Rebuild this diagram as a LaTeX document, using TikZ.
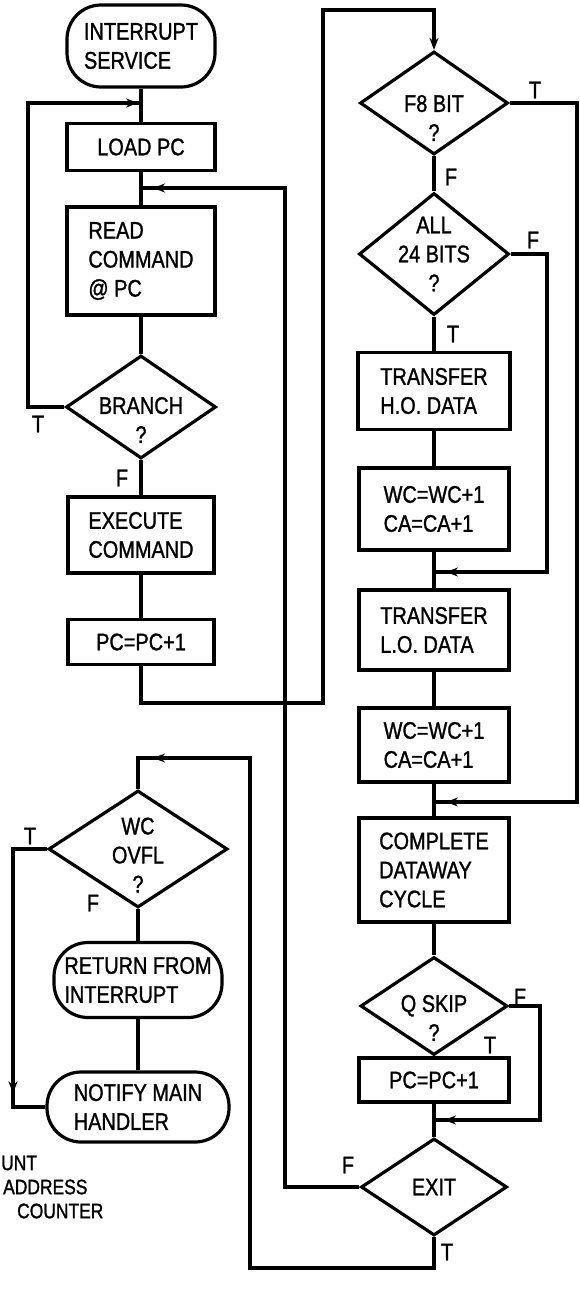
\documentclass[tikz,border=0pt]{standalone}
\usepackage{fontspec}
\setmainfont{Liberation Sans}[FakeStretch=0.83,FakeBold=1.2]
\usetikzlibrary{shapes.geometric,arrows.meta,decorations.markings}

\tikzset{
  proc/.style={draw,rectangle,line width=3.2pt,align=left},
  term/.style={draw,rectangle,rounded corners=34pt,line width=3.2pt,align=left},
  dec/.style={draw,diamond,line width=3.2pt},
  dtext/.style={align=center},
  flow/.style={line width=3.2pt},
  tip/.style={-{Stealth[length=12pt,width=9pt]}},
  arrowat/.style={postaction={decorate,decoration={markings,
      mark=at position #1 with {\arrow{Stealth[length=12pt,width=9pt]}}}}},
  legend/.style={anchor=west,font=\fontsize{21}{24}\selectfont},
}

\begin{document}
\begin{tikzpicture}[x=1pt,y=-1pt,every node/.append style={font=\fontsize{24}{29}\selectfont,inner sep=0pt}]
\useasboundingbox (0,0) rectangle (579,1301);
% left column
\node[term,minimum width=148pt,minimum height=82pt] (isr) at (141,46) {INTERRUPT\\SERVICE};
\node[proc,minimum width=148pt,minimum height=47pt,align=center] (loadpc) at (141,147) {LOAD PC};
\node[proc,minimum width=148pt,minimum height=108pt] (readcmd) at (141,261) {READ\\COMMAND\\@ PC};
\node[dec,minimum width=150pt,minimum height=103pt] (branch) at (141,407) {};
\node[dtext,yshift=-13pt] (branchtxt) at (branch) {BRANCH\\?};
\node[proc,minimum width=146pt,minimum height=76pt] (execcmd) at (141,535) {EXECUTE\\COMMAND};
\node[proc,minimum width=146pt,minimum height=45pt,align=center] (incpc) at (141,642) {PC=PC+1};
% right column
\node[dec,minimum width=148pt,minimum height=103pt] (f8) at (434,103) {};
\node[dtext,yshift=-15pt] (f8txt) at (f8) {F8 BIT\\?};
\node[dec,minimum width=150pt,minimum height=122pt] (allbits) at (434,254) {};
\node[dtext] (allbitstxt) at (allbits) {ALL\\24 BITS\\?};
\node[proc,minimum width=152pt,minimum height=77pt] (xferho) at (434,391) {TRANSFER\\H.O. DATA};
\node[proc,minimum width=150pt,minimum height=82pt] (incwca) at (434,509) {WC=WC+1\\CA=CA+1};
\node[proc,minimum width=150pt,minimum height=80pt] (xferlo) at (434,630) {TRANSFER\\L.O. DATA};
\node[proc,minimum width=150pt,minimum height=74pt] (incwcb) at (434,745) {WC=WC+1\\CA=CA+1};
\node[proc,minimum width=150pt,minimum height=104pt] (dataway) at (434,870) {COMPLETE\\DATAWAY\\CYCLE};
\node[dec,minimum width=147pt,minimum height=98pt] (qskip) at (434,1006) {};
\node[dtext,yshift=-12pt] (qskiptxt) at (qskip) {Q SKIP\\?};
\node[proc,minimum width=150pt,minimum height=44pt,align=center] (skippc) at (434,1080) {PC=PC+1};
\node[dec,minimum width=146pt,minimum height=97pt] (exit) at (434,1187) {};
\node[dtext] (exittxt) at (exit) {EXIT};
% bottom left
\node[dec,minimum width=179pt,minimum height=117pt] (wcovfl) at (138,849) {};
\node[dtext,yshift=-6pt] (wcovfltxt) at (wcovfl) {WC\\OVFL\\?};
\node[term,minimum width=168pt,minimum height=75pt] (rfi) at (138,980) {RETURN FROM\\INTERRUPT};
\node[term,minimum width=182pt,minimum height=70pt] (notify) at (138,1107) {NOTIFY MAIN\\HANDLER};
% legend
\node[legend] (lgwc) at (1,1163) {UNT};
\node[legend] (lgca) at (3,1187) {ADDRESS};
\node[legend] (lgpc) at (17,1211) {COUNTER};
% branch labels
\node (f8t) at (535,90) {T};
\node (f8f) at (451,177) {F};
\node (allf) at (533,240) {F};
\node (allt) at (453,334) {T};
\node (brt) at (38,424) {T};
\node (brf) at (122,478) {F};
\node (wct) at (30,836) {T};
\node (wcf) at (93,903) {F};
\node (qf) at (520,997) {F};
\node (qt) at (490,1045) {T};
\node (exf) at (348,1165) {F};
\node (ext) at (447,1252) {T};
% junctions
\coordinate (jload) at (141,103);
\coordinate (jread) at (141,188);
\coordinate (jlo) at (434,572);
\coordinate (jdw) at (434,802);
\coordinate (jexit) at (434,1120);
% straight runs
\draw[flow] (isr.south) -- (loadpc.north);
\draw[flow] (loadpc.south) -- (readcmd.north);
\draw[flow] (readcmd.south) -- (branch.north);
\draw[flow] (branch.south) -- (execcmd.north);
\draw[flow] (execcmd.south) -- (incpc.north);
\draw[flow] (f8.south) -- (allbits.north);
\draw[flow] (allbits.south) -- (xferho.north);
\draw[flow] (xferho.south) -- (incwca.north);
\draw[flow] (incwca.south) -- (xferlo.north);
\draw[flow] (xferlo.south) -- (incwcb.north);
\draw[flow] (incwcb.south) -- (dataway.north);
\draw[flow] (dataway.south) -- (qskip.north);
\draw[flow] (qskip.south) -- (skippc.north);
\draw[flow] (skippc.south) -- (exit.north);
\draw[flow] (wcovfl.south) -- (rfi.north);
\draw[flow] (rfi.south) -- (notify.north);
% loops
\draw[flow,arrowat=-3pt] (branch.west) -| (28,103) -- (jload);
\draw[flow,tip] (incpc.south) |- (323,703) |- (434,10) -- (f8.north);
\draw[flow,arrowat=-12pt] (exit.west) -| (285,188) -- (jread);
\draw[flow,arrowat=-12pt] (allbits.east) -| (547,572) -- (jlo);
\draw[flow,arrowat=-12pt] (f8.east) -| (577,802) -- (jdw);
\draw[flow,arrowat=-10pt] (qskip.east) -| (540,1120) -- (jexit);
\draw[flow,arrowat=-46pt] (exit.south) |- (250,1268) |- (138,758) -- (wcovfl.north);
\draw[flow,arrowat=-46pt] (wcovfl.west) -| (13,1107) -- (notify.west);
\end{tikzpicture}
\end{document}
